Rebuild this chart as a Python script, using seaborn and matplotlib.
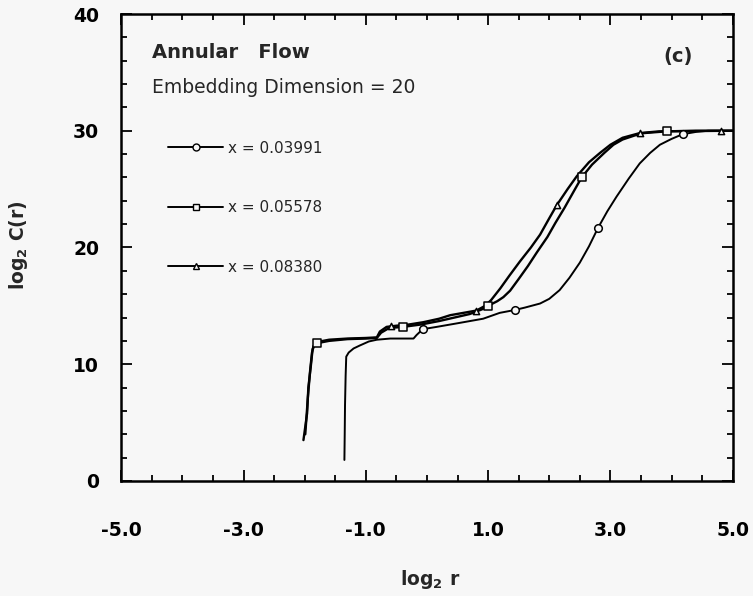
import numpy as np
import pandas as pd
import matplotlib
matplotlib.use("Agg")
import matplotlib.pyplot as plt
from matplotlib.ticker import MultipleLocator
from matplotlib.lines import Line2D
import seaborn as sns

# ---------------- data ----------------
series_labels = ["x = 0.03991", "x = 0.05578", "x = 0.08380"]

# x = 0.03991 (circles)
circ_x = [-1.35, -1.345, -1.34, -1.33, -1.32, -1.28, -1.2, -1.1, -0.95, -0.82, -0.6,
          -0.4, -0.22, -0.17, -0.07, 0.16, 0.49, 0.92, 1.19, 1.44, 1.6, 1.85, 2.0,
          2.17, 2.33, 2.5, 2.65, 2.8, 2.95, 3.1, 3.3, 3.48, 3.65, 3.81, 4.0, 4.18,
          4.4, 4.6, 5.0]
circ_y = [1.8, 4.0, 6.5, 9.0, 10.65, 11.0, 11.35, 11.6, 11.95, 12.1, 12.2,
          12.2, 12.2, 12.5, 13.0, 13.2, 13.5, 13.9, 14.4, 14.65, 14.85, 15.2, 15.6,
          16.35, 17.4, 18.7, 20.1, 21.7, 23.1, 24.35, 25.9, 27.2, 28.1, 28.8, 29.3, 29.7,
          29.9, 30.0, 30.0]
circ_mx = [-0.07, 1.44, 2.80, 4.18]
circ_my = [13.0, 14.65, 21.7, 29.7]

# x = 0.05578 (squares)
sq_x = [-1.99, -1.95, -1.91, -1.88, -1.85, -1.8, -1.6, -1.3, -1.0, -0.82, -0.75,
        -0.62, -0.39, -0.1, 0.2, 0.45, 0.7, 0.9, 1.0, 1.15, 1.25, 1.36, 1.5, 1.65,
        1.8, 1.97, 2.1, 2.25, 2.4, 2.53, 2.7, 2.9, 3.05, 3.2, 3.4, 3.55, 3.92, 4.4, 5.0]
sq_y = [4.0, 7.0, 9.5, 11.0, 11.6, 11.8, 12.0, 12.15, 12.2, 12.25, 12.7,
        13.1, 13.2, 13.4, 13.7, 14.0, 14.3, 14.7, 15.0, 15.4, 15.75, 16.3, 17.3, 18.4,
        19.6, 20.9, 22.1, 23.4, 24.8, 26.0, 27.1, 28.1, 28.8, 29.25, 29.6, 29.8, 29.95, 30.0, 30.0]
sq_mx = [-1.8, -0.39, 1.0, 2.53, 3.92]
sq_my = [11.8, 13.2, 15.0, 26.0, 29.95]

# x = 0.08380 (triangles)
tri_x = [-2.02, -1.96, -1.94, -1.9, -1.87, -1.84, -1.8, -1.6, -1.3, -1.0, -0.82,
         -0.77, -0.66, -0.5, -0.3, -0.06, 0.2, 0.38, 0.65, 0.81, 0.95, 1.05, 1.2,
         1.35, 1.52, 1.7, 1.85, 2.0, 2.12, 2.3, 2.45, 2.65, 2.83, 3.0, 3.2, 3.48,
         3.8, 5.0]
tri_y = [3.5, 5.8, 8.0, 9.8, 11.3, 11.7, 11.9, 12.1, 12.2, 12.25, 12.3,
         12.8, 13.2, 13.3, 13.4, 13.6, 13.9, 14.2, 14.45, 14.6, 15.0, 15.5, 16.5,
         17.6, 18.8, 20.0, 21.1, 22.5, 23.6, 25.0, 26.1, 27.3, 28.1, 28.8, 29.4, 29.8,
         29.95, 30.0]
tri_mx = [-0.58, 0.81, 2.12, 3.48, 4.81]
tri_my = [13.25, 14.6, 23.6, 29.8, 30.0]

x_ticks = [-5, -3, -1, 1, 3, 5]
x_ticklabels = ["-5.0", "-3.0", "-1.0", "1.0", "3.0", "5.0"]
y_ticks = [0, 10, 20, 30, 40]
y_ticklabels = ["0", "10", "20", "30", "40"]

# ---------------- style ----------------
sns.set_style("ticks")
plt.rcParams["font.family"] = ["DejaVu Sans"]
plt.rcParams["mathtext.default"] = "bf"
bg = "#f7f7f7"

fig = plt.figure(figsize=(7.53, 5.96), dpi=100, facecolor=bg)
ax = fig.add_axes([0.161, 0.193, 0.812, 0.7835])
ax.set_facecolor(bg)

curves = [
    (circ_x, circ_y, 1.4),
    (sq_x, sq_y, 1.7),
    (tri_x, tri_y, 1.7),
]
for xs, ys, lw in curves:
    df = pd.DataFrame({"x": xs, "y": ys})
    sns.lineplot(data=df, x="x", y="y", sort=False, estimator=None,
                 color="black", linewidth=lw, ax=ax, legend=False)

marks = [
    (circ_mx, circ_my, "o", 30),
    (sq_mx, sq_my, "s", 26),
    (tri_mx, tri_my, "^", 20),
]
for mx, my, mk, s in marks:
    dm = pd.DataFrame({"x": mx, "y": my})
    sns.scatterplot(data=dm, x="x", y="y", marker=mk, s=s, color=bg,
                    edgecolor="black", linewidth=1.1, ax=ax, zorder=4, legend=False)

ax.set_xlim(-5, 5)
ax.set_ylim(0, 40)
ax.set_xticks(x_ticks)
ax.set_xticklabels(x_ticklabels)
ax.set_yticks(y_ticks)
ax.set_yticklabels(y_ticklabels)
ax.xaxis.set_minor_locator(MultipleLocator(0.5))
ax.yaxis.set_minor_locator(MultipleLocator(2))
ax.tick_params(which="both", direction="in", top=True, right=True, width=1.3,
               colors="black")
ax.tick_params(which="major", length=8)
ax.tick_params(which="minor", length=4.5)
ax.tick_params(axis="x", which="major", pad=29)
ax.tick_params(axis="y", which="major", pad=16)
for lab in ax.get_xticklabels() + ax.get_yticklabels():
    lab.set_fontweight("bold")
    lab.set_fontsize(13.5)
for sp in ax.spines.values():
    sp.set_visible(True)
    sp.set_linewidth(1.8)
    sp.set_color("black")

ax.set_xlabel("log$_2$ r", fontsize=13.5, fontweight="bold", va="top")
ax.set_ylabel("log$_2$ C(r)", fontsize=13.5, fontweight="bold")
ax.xaxis.set_label_coords(0.505, -0.186)
ax.yaxis.set_label_coords(-0.15, 0.505)

ax.text(0.051, 0.906, "Annular   Flow", transform=ax.transAxes, fontsize=14,
        fontweight="bold", va="baseline", ha="left")
ax.text(0.051, 0.831, "Embedding Dimension = 20", transform=ax.transAxes,
        fontsize=13.5, va="baseline", ha="left")
ax.text(0.910, 0.897, "(c)", transform=ax.transAxes, fontsize=14,
        fontweight="bold", va="baseline", ha="center")

handles = [
    Line2D([0], [0], color="black", lw=1.4, marker="o", ms=5, mfc=bg, mec="black", mew=1.0),
    Line2D([0], [0], color="black", lw=1.4, marker="s", ms=5, mfc=bg, mec="black", mew=1.0),
    Line2D([0], [0], color="black", lw=1.4, marker="^", ms=5, mfc=bg, mec="black", mew=1.0),
]
ax.legend(handles, series_labels, loc="upper left", bbox_to_anchor=(0.0768, 0.729),
          frameon=False, borderpad=0, borderaxespad=0, handlelength=3.6,
          handletextpad=0.3, labelspacing=2.92, fontsize=11, numpoints=1)

fig.savefig("out.png", dpi=100, facecolor=bg)
